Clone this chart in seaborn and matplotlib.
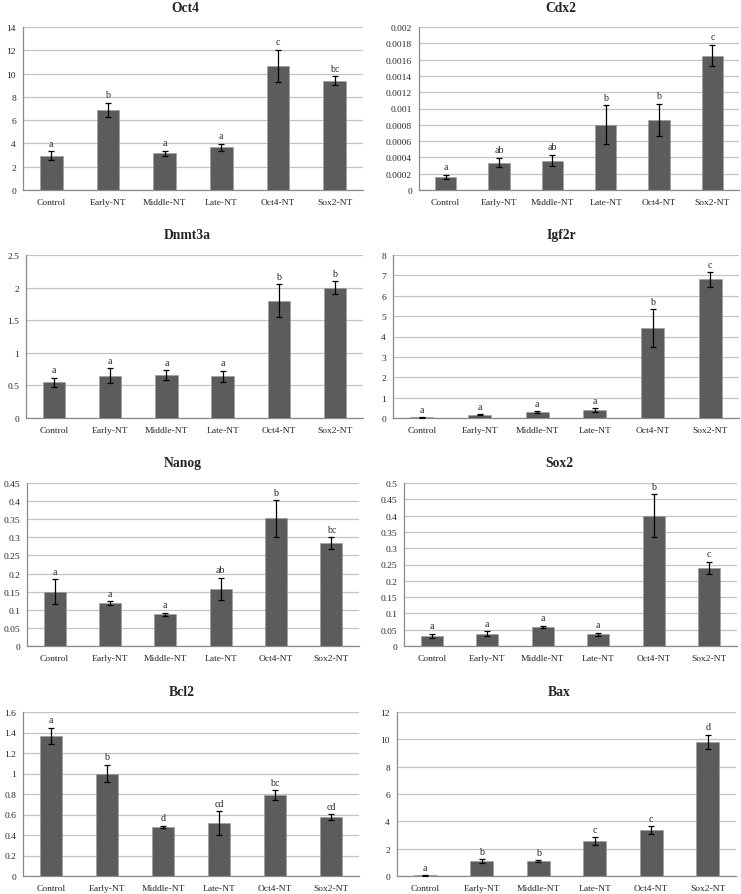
import numpy as np
import pandas as pd
import matplotlib
matplotlib.use("Agg")
import matplotlib.pyplot as plt
import seaborn as sns
from matplotlib.ticker import FixedLocator, MultipleLocator, FuncFormatter

sns.set_style("white")
plt.rcParams['font.family'] = ['Liberation Serif', 'DejaVu Serif']

groups = ["Control", "Early-NT", "Middle-NT", "Late-NT", "Oct4-NT", "Sox2-NT"]

oct4_mean = [2.95, 6.88, 3.17, 3.68, 10.68, 9.40]
oct4_err = [0.40, 0.62, 0.22, 0.30, 1.37, 0.35]
oct4_sig = ["a", "b", "a", "a", "c", "bc"]

cdx2_mean = [0.00016, 0.000337, 0.00036, 0.0008, 0.00086, 0.00165]
cdx2_err = [0.000025, 0.00006, 0.00007, 0.00024, 0.0002, 0.00013]
cdx2_sig = ["a", "ab", "ab", "b", "b", "c"]

dnmt3a_mean = [0.545, 0.65, 0.66, 0.64, 1.80, 2.00]
dnmt3a_err = [0.07, 0.11, 0.07, 0.085, 0.25, 0.10]
dnmt3a_sig = ["a", "a", "a", "a", "b", "b"]

igf2r_mean = [0.03, 0.16, 0.28, 0.37, 4.40, 6.80]
igf2r_err = [0.01, 0.02, 0.04, 0.10, 0.93, 0.36]
igf2r_sig = ["a", "a", "a", "a", "b", "c"]

nanog_mean = [0.150, 0.119, 0.087, 0.157, 0.352, 0.284]
nanog_err = [0.035, 0.005, 0.005, 0.031, 0.051, 0.016]
nanog_sig = ["a", "a", "a", "ab", "b", "bc"]

sox2_mean = [0.032, 0.038, 0.058, 0.036, 0.400, 0.240]
sox2_err = [0.006, 0.007, 0.004, 0.005, 0.065, 0.018]
sox2_sig = ["a", "a", "a", "a", "b", "c"]

bcl2_mean = [1.365, 1.00, 0.478, 0.513, 0.79, 0.572]
bcl2_err = [0.08, 0.085, 0.012, 0.117, 0.048, 0.03]
bcl2_sig = ["a", "b", "d", "cd", "bc", "cd"]

bax_mean = [0.05, 1.08, 1.08, 2.57, 3.36, 9.82]
bax_err = [0.02, 0.13, 0.06, 0.27, 0.30, 0.50]
bax_sig = ["a", "b", "b", "c", "c", "d"]

panels = [
    ("Oct4", oct4_mean, oct4_err, oct4_sig, 14, 2, lambda v: f"{v:g}"),
    ("Cdx2", cdx2_mean, cdx2_err, cdx2_sig, 0.002, 0.0002, lambda v: "0" if v == 0 else f"{v:.4f}".rstrip("0")),
    ("Dnmt3a", dnmt3a_mean, dnmt3a_err, dnmt3a_sig, 2.5, 0.5, lambda v: f"{v:g}"),
    ("Igf2r", igf2r_mean, igf2r_err, igf2r_sig, 8, 1, lambda v: f"{v:g}"),
    ("Nanog", nanog_mean, nanog_err, nanog_sig, 0.45, 0.05, lambda v: f"{v:g}"),
    ("Sox2", sox2_mean, sox2_err, sox2_sig, 0.5, 0.05, lambda v: f"{v:g}"),
    ("Bcl2", bcl2_mean, bcl2_err, bcl2_sig, 1.6, 0.2, lambda v: f"{v:g}"),
    ("Bax", bax_mean, bax_err, bax_sig, 12, 2, lambda v: f"{v:g}"),
]

# axes boxes in pixels: left, right, top, bottom
boxes = [
    (23, 363, 28, 191), (419, 739, 28, 191),
    (26, 363, 256, 419), (393, 739, 256, 419),
    (27, 359, 484, 647), (404, 737, 484, 647),
    (23, 359, 713, 877), (397, 736, 713, 877),
]
title_x = [185, 561, 187, 561, 183, 559, 182, 559]

W, H = 741, 895
fig = plt.figure(figsize=(W / 100, H / 100), dpi=100)
fig.patch.set_facecolor("white")

bar_color = "#5c5c5c"
grid_color = "#c4c4c4"
axis_color = "#8a8a8a"

for (name, mean, err, sig, ymax, step, fmt), (l, r, t, b), tx in zip(panels, boxes, title_x):
    ax = fig.add_axes([l / W, 1 - b / H, (r - l) / W, (b - t) / H])
    df = pd.DataFrame({"group": groups, "value": mean, "err": err})
    sns.barplot(data=df, x="group", y="value", color=bar_color, width=0.4,
                saturation=1, errorbar=None, ax=ax, zorder=3,
                edgecolor="#9a9a9a", linewidth=0.4)
    ax.errorbar(x=np.arange(len(groups)), y=df["value"], yerr=df["err"], fmt="none",
                ecolor="black", elinewidth=0.9, capsize=2.2, capthick=0.9, zorder=4)
    for i, (m, e, s) in enumerate(zip(mean, err, sig)):
        ax.annotate(s, xy=(i, m + e), xytext=(0, 2.5), textcoords="offset points",
                    ha="center", va="bottom", fontsize=7.2)
    ax.set_xlim(-0.5, len(groups) - 0.5)
    ax.set_ylim(0, ymax)
    ax.yaxis.set_major_locator(MultipleLocator(step))
    ax.yaxis.set_major_formatter(FuncFormatter(lambda v, p, f=fmt: f(v)))
    ax.grid(axis="y", color=grid_color, linewidth=0.9, zorder=0)
    ax.set_axisbelow(True)
    ax.set_xlabel("")
    ax.set_ylabel("")
    for sp in ["top", "right"]:
        ax.spines[sp].set_visible(False)
    for sp in ["left", "bottom"]:
        ax.spines[sp].set_color(axis_color)
        ax.spines[sp].set_linewidth(0.9)
    ax.xaxis.set_minor_locator(FixedLocator(np.arange(-0.5, len(groups), 1.0)))
    ax.tick_params(axis="x", which="major", length=0, labelsize=6.8, pad=6)
    ax.tick_params(axis="x", which="minor", length=4, color=axis_color, direction="out")
    ax.tick_params(axis="y", which="major", length=3, color=axis_color, labelsize=6.8, pad=2)
    ax.set_facecolor("white")
    fig.text(tx / W, 1 - (t - 20) / H, name, ha="center", va="center",
             fontsize=9.8, fontweight="bold")

fig.savefig("out.png", dpi=100, facecolor="white")
